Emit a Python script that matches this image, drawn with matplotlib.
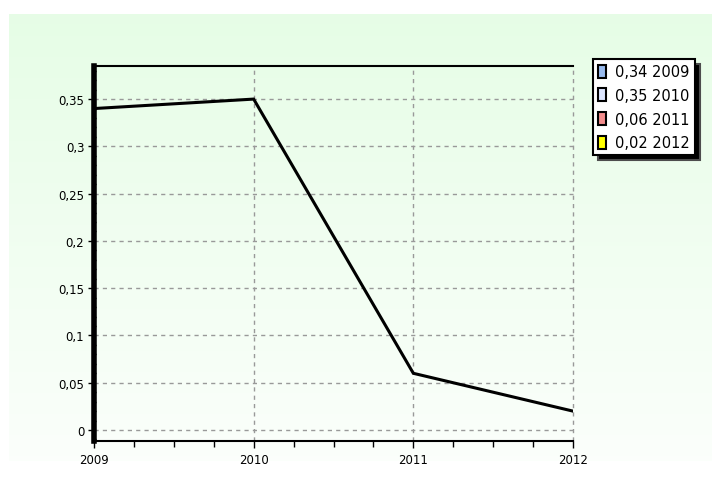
import numpy as np
import matplotlib
matplotlib.use("Agg")
import matplotlib.pyplot as plt
from matplotlib.patches import Patch
from matplotlib.ticker import MultipleLocator, FuncFormatter

# data
years = [2009, 2010, 2011, 2012]
values = [0.34, 0.35, 0.06, 0.02]
legend_colors = ['#99bbee', '#dde6ff', '#f28c8c', '#ffff00']
y_ticks = [0, 0.05, 0.1, 0.15, 0.2, 0.25, 0.3, 0.35]

W, H = 712, 485
fig = plt.figure(figsize=(W / 100, H / 100), dpi=100)
fig.patch.set_facecolor('white')

# light green gradient panel behind everything
bg = fig.add_axes([9 / W, 1 - 462 / H, (W - 9) / W, 447 / H], zorder=0)
grad = np.linspace(0, 1, 256).reshape(-1, 1)
top = np.array([0.902, 0.992, 0.902])
bot = np.array([0.985, 1.0, 0.985])
img = top + (bot - top) * grad[:, :, None]
bg.imshow(img, aspect='auto', extent=[0, 1, 0, 1], origin='upper')
bg.axis('off')

ax = fig.add_axes([94 / W, 1 - 442 / H, (573 - 94) / W, (442 - 67) / H], zorder=1)
ax.patch.set_alpha(0)

ax.plot(years, values, color='black', lw=2.2, solid_joinstyle='miter', zorder=3)

ax.set_xlim(2009, 2012)
ax.set_ylim(-0.0116, 0.385)

ax.set_xticks(years)
ax.set_xticklabels([str(y) for y in years])
ax.xaxis.set_minor_locator(MultipleLocator(0.25))
ax.set_yticks(y_ticks)
ax.yaxis.set_major_formatter(FuncFormatter(lambda v, p: ('%g' % round(v, 2)).replace('.', ',')))
ax.yaxis.set_minor_locator(MultipleLocator(0.01))

ax.tick_params(axis='x', which='major', direction='out', length=5, width=1, labelsize=8.5, pad=4)
ax.tick_params(axis='x', which='minor', direction='out', length=4, width=1)
ax.tick_params(axis='y', which='major', direction='out', length=4, width=1, labelsize=8.5, pad=3)
ax.tick_params(axis='y', which='minor', direction='inout', length=3, width=1)

ax.grid(True, which='major', color='#999999', ls=(0, (3, 3)), lw=1)
for gl in ax.get_xgridlines() + ax.get_ygridlines():
    gl.set_clip_on(False)

ax.spines['left'].set_linewidth(4)
ax.spines['bottom'].set_linewidth(1.5)
ax.spines['top'].set_linewidth(1.5)
ax.spines['right'].set_visible(False)

handles = [Patch(facecolor=c, edgecolor='black', lw=1.5) for c in legend_colors]
labels = ['%s %d' % (('%.2f' % v).replace('.', ','), y) for v, y in zip(values, years)]
leg = fig.legend(handles, labels, loc='upper left',
                 bbox_to_anchor=(593 / W, 1 - 60 / H), borderaxespad=0,
                 fontsize=10.5, handlelength=0.55, handleheight=1.0, handletextpad=0.6,
                 labelspacing=0.6, borderpad=0.35, fancybox=False, framealpha=1,
                 edgecolor='black',
                 shadow={'ox': 3.6, 'oy': -3.6, 'facecolor': 'black', 'alpha': 1})
leg.get_frame().set_linewidth(1.5)

fig.savefig('out.png', dpi=100)
